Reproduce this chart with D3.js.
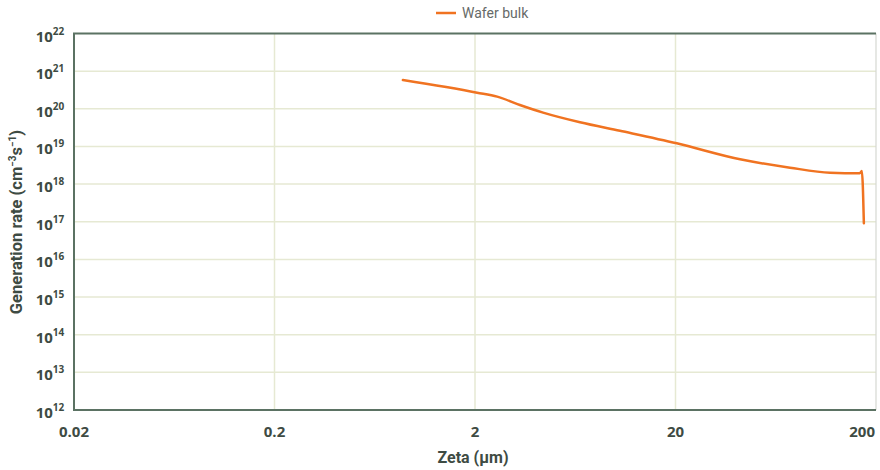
<!DOCTYPE html>
<html>
<head>
<meta charset="utf-8">
<script src="https://cdn.jsdelivr.net/npm/d3@7"></script>
<style>
  html, body { margin: 0; padding: 0; background: #fff; }
  svg { display: block; }
</style>
</head>
<body>
<svg id="chart" width="880" height="470"></svg>
<script>
// Generation rate through the wafer bulk versus depth (zeta)
const zeta = [0.874, 2.05, 2.58, 3.35, 4.37, 6.68, 10.57, 20.3, 42, 74.5, 118, 166, 170, 174];
const genRate = [5.8e20, 2.68e20, 2.10e20, 1.26e20, 7.9e19, 4.38e19, 2.6e19, 1.21e19, 4.56e18, 2.73e18, 2.01e18, 1.94e18, 2.23e18, 9.1e16];
const seriesName = "Wafer bulk";
const xTicks = [0.02, 0.2, 2, 20, 200];
const xTickLabels = ["0.02", "0.2", "2", "20", "200"];
const yExponents = [12, 13, 14, 15, 16, 17, 18, 19, 20, 21, 22];

const svg = d3.select("#chart");
const plotLeft = 74, plotRight = 876, plotTop = 33.5, plotBottom = 410;

const x = d3.scaleLog().domain([0.02, 200]).range([plotLeft, plotRight]);
const y = d3.scaleLog().domain([1e12, 1e22]).range([plotBottom, plotTop]);

const gridColor = "#e6e9d3";
const axisColor = "#5b7263";
const textColor = "#3e4b43";
const lineColor = "#f07321";
const tickFont = "'Open Sans', 'Liberation Sans', sans-serif";
const titleFont = "Roboto, 'Noto Sans', sans-serif";

// horizontal gridlines
svg.append("g").selectAll("line")
  .data(yExponents.slice(0, -1))
  .join("line")
  .attr("x1", plotLeft).attr("x2", plotRight)
  .attr("y1", d => y(Math.pow(10, d))).attr("y2", d => y(Math.pow(10, d)))
  .attr("stroke", gridColor).attr("stroke-width", 1.5);

// vertical gridlines
svg.append("g").selectAll("line")
  .data(xTicks.slice(1, -1))
  .join("line")
  .attr("x1", d => x(d)).attr("x2", d => x(d))
  .attr("y1", plotTop).attr("y2", plotBottom)
  .attr("stroke", gridColor).attr("stroke-width", 1.5);

// right border
svg.append("line")
  .attr("x1", plotRight).attr("x2", plotRight).attr("y1", plotTop).attr("y2", plotBottom)
  .attr("stroke", "#d6d8d2").attr("stroke-width", 1.2);

// frame: top, left, bottom
svg.append("path")
  .attr("d", `M${plotRight},${plotTop}H${plotLeft}V${plotBottom}H${plotRight}`)
  .attr("fill", "none").attr("stroke", axisColor).attr("stroke-width", 2);

// y tick labels (powers of ten)
const yl = svg.append("g").selectAll("text")
  .data(yExponents)
  .join("text")
  .attr("x", 50).attr("y", d => y(Math.pow(10, d)) + 8)
  .attr("text-anchor", "middle")
  .attr("font-family", tickFont).attr("font-weight", 700)
  .attr("font-size", 15).attr("fill", textColor);
yl.append("tspan").text("10");
yl.append("tspan").attr("dy", -7).attr("font-size", 10).text(d => d);

// x tick labels
svg.append("g").selectAll("text")
  .data(xTicks)
  .join("text")
  .attr("x", (d, i) => i === xTicks.length - 1 ? plotRight - 1 : x(d))
  .attr("y", 437)
  .attr("text-anchor", (d, i) => i === xTicks.length - 1 ? "end" : "middle")
  .attr("font-family", tickFont).attr("font-weight", 700)
  .attr("font-size", 15).attr("fill", textColor)
  .text((d, i) => xTickLabels[i]);

// axis titles
svg.append("text")
  .attr("x", 473).attr("y", 463)
  .attr("text-anchor", "middle")
  .attr("font-family", titleFont).attr("font-weight", 700)
  .attr("font-size", 16).attr("fill", textColor)
  .text("Zeta (μm)");

const yt = svg.append("text")
  .attr("transform", `translate(22,222) rotate(-90)`)
  .attr("text-anchor", "middle")
  .attr("font-family", titleFont).attr("font-weight", 700)
  .attr("font-size", 16.5).attr("fill", textColor);
yt.append("tspan").text("Generation rate (cm");
yt.append("tspan").attr("dy", -6).attr("font-size", 10).text("−3");
yt.append("tspan").attr("dy", 6).text("s");
yt.append("tspan").attr("dy", -6).attr("font-size", 10).text("−1");
yt.append("tspan").attr("dy", 6).text(")");

// series line
const line = d3.line()
  .x((d, i) => x(zeta[i]))
  .y((d, i) => y(genRate[i]))
  .curve(d3.curveMonotoneX);

svg.append("path")
  .datum(zeta)
  .attr("d", line)
  .attr("fill", "none")
  .attr("stroke", lineColor).attr("stroke-width", 2.5)
  .attr("stroke-linejoin", "round").attr("stroke-linecap", "round");

// legend
const lg = svg.append("g").attr("transform", "translate(436,13)");
lg.append("line").attr("x1", 0).attr("x2", 20).attr("y1", 0).attr("y2", 0)
  .attr("stroke", lineColor).attr("stroke-width", 2.5);
lg.append("text").attr("x", 26).attr("y", 5)
  .attr("font-family", titleFont).attr("font-size", 14)
  .attr("fill", "#666a68").text(seriesName);
</script>
</body>
</html>
